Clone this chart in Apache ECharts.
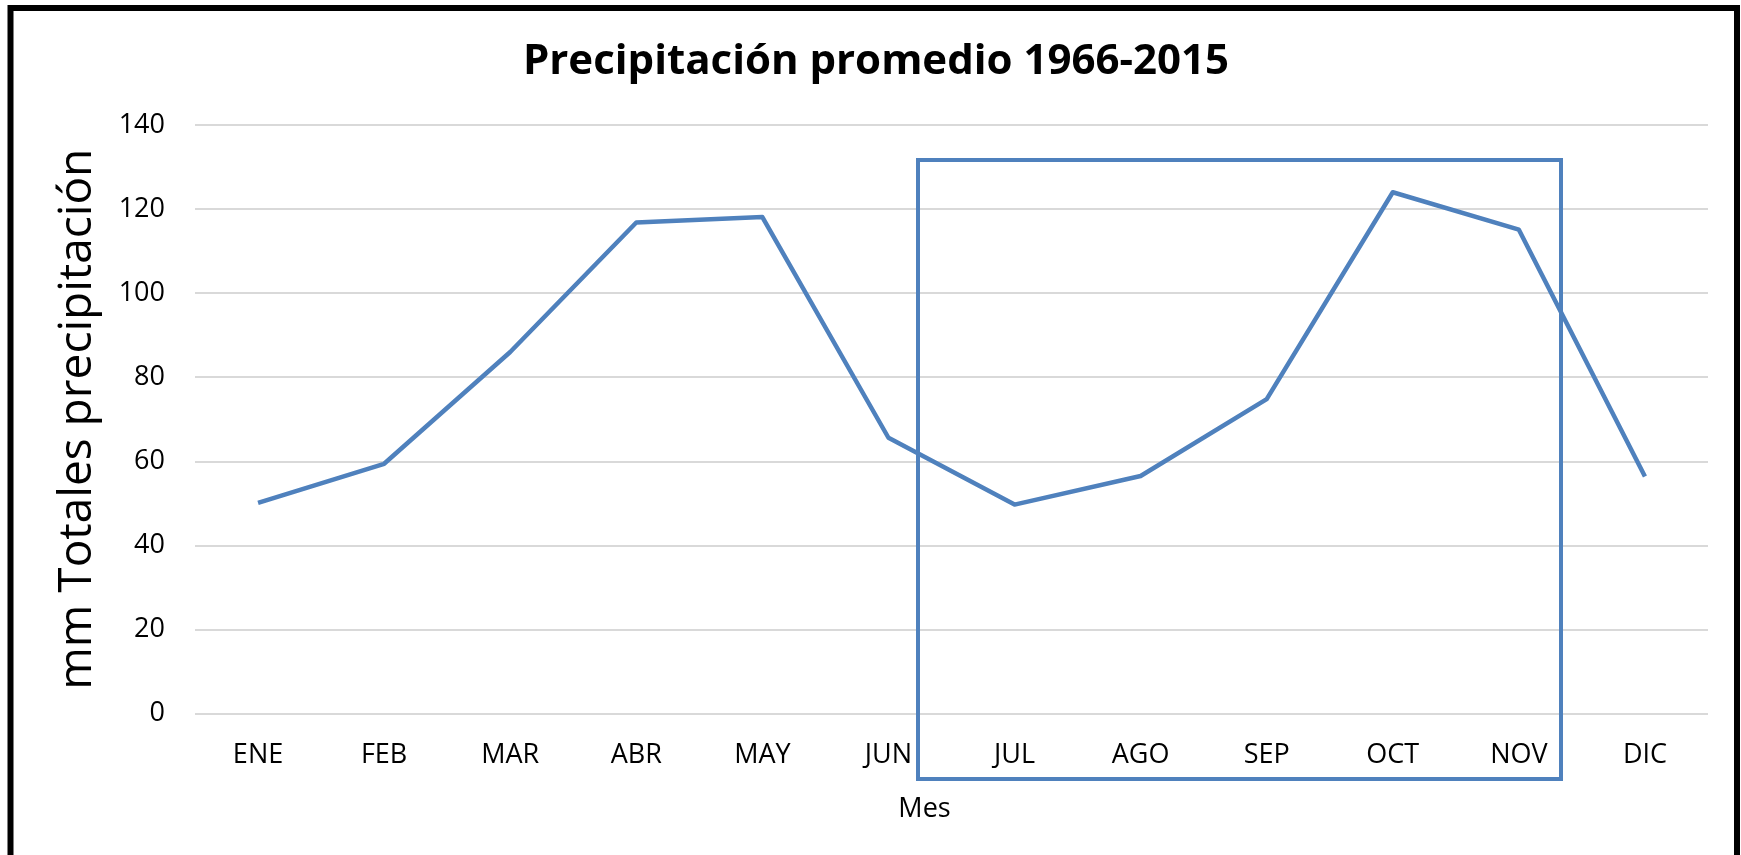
<!DOCTYPE html>
<html>
<head>
<meta charset="utf-8">
<script src="https://cdn.jsdelivr.net/npm/echarts@6/dist/echarts.min.js"></script>
<style>
  html, body { margin: 0; padding: 0; background: #fff; }
  #chart { width: 1741px; height: 855px; }
</style>
</head>
<body>
<div id="chart"></div>
<script>
// datos
var meses = ["ENE", "FEB", "MAR", "ABR", "MAY", "JUN", "JUL", "AGO", "SEP", "OCT", "NOV", "DIC"];
var precipitacion = [50.1, 59.4, 86.0, 116.8, 118.1, 65.6, 49.7, 56.5, 74.8, 124.0, 115.1, 56.4];
var ticksY = [0, 20, 40, 60, 80, 100, 120, 140];

var azul = "#4F81BD";
var fuente = "'Open Sans', 'Noto Sans', sans-serif";

var chart = echarts.init(document.getElementById("chart"));

var option = {
    backgroundColor: "#ffffff",
    animation: false,
    title: {
        text: "Precipitación promedio 1966-2015",
        left: 871,
        top: 36,
        textAlign: "center",
        textStyle: {
            fontFamily: fuente,
            fontSize: 42,
            fontWeight: "bold",
            color: "#000"
        }
    },
    grid: { left: 195, right: 33, top: 125, bottom: 141.5 },
    xAxis: {
        type: "category",
        data: meses,
        boundaryGap: true,
        name: "Mes",
        nameLocation: "middle",
        nameGap: 82,
        nameTextStyle: {
            fontFamily: fuente,
            fontSize: 27,
            color: "#000",
            padding: [0, 54, 0, 0]
        },
        axisLine: { show: false },
        axisTick: { show: false },
        axisLabel: {
            fontFamily: fuente,
            fontSize: 27,
            color: "#000",
            margin: 28
        }
    },
    yAxis: {
        type: "value",
        min: ticksY[0],
        max: ticksY[ticksY.length - 1],
        interval: 20,
        name: "mm Totales precipitación",
        nameLocation: "middle",
        nameGap: 94,
        nameTextStyle: {
            fontFamily: fuente,
            fontSize: 46,
            color: "#000"
        },
        axisLine: { show: false },
        axisTick: { show: false },
        axisLabel: {
            fontFamily: fuente,
            fontSize: 27,
            color: "#000",
            margin: 30
        },
        splitLine: { lineStyle: { color: "#D9D9D9", width: 2 } }
    },
    series: [
        {
            type: "line",
            data: precipitacion,
            showSymbol: false,
            lineStyle: { color: azul, width: 4.5, join: "round" },
            itemStyle: { color: azul }
        }
    ],
    graphic: [
        // marco negro del grafico
        {
            type: "rect",
            shape: { x: 10.5, y: 8, width: 1726.5, height: 900 },
            style: { fill: null, stroke: "#000", lineWidth: 6 },
            z: 10
        },
        // recuadro azul JUL-NOV
        {
            type: "rect",
            shape: { x: 918, y: 160, width: 643, height: 619 },
            style: { fill: null, stroke: azul, lineWidth: 4 },
            z: 10
        }
    ]
};

chart.setOption(option);
</script>
</body>
</html>
